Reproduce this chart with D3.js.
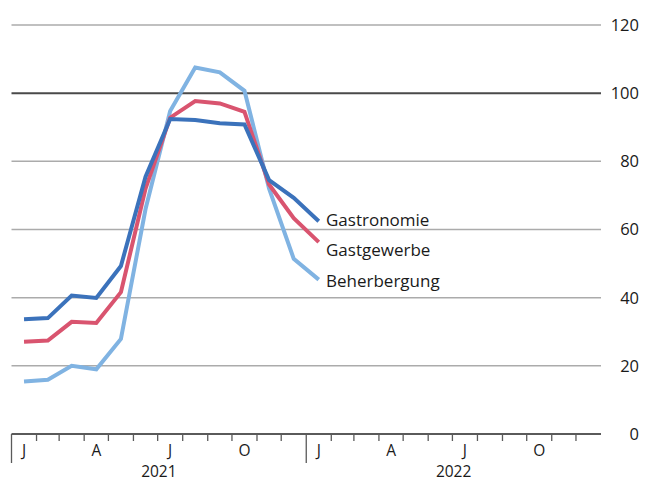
<!DOCTYPE html>
<html>
<head>
<meta charset="utf-8">
<script src="https://cdn.jsdelivr.net/npm/d3@7"></script>
<style>
  body { margin: 0; background: #fff; }
  svg text { font-family: "Open Sans", "Noto Sans", sans-serif; fill: #1a1a1a; }
</style>
</head>
<body>
<div id="chart"></div>
<script>
// months Jan 2021 .. Jan 2022
var months = ["2021-01","2021-02","2021-03","2021-04","2021-05","2021-06","2021-07",
              "2021-08","2021-09","2021-10","2021-11","2021-12","2022-01"];
var gastronomie  = [33.7, 34.0, 40.6, 39.9, 49.3, 75.5, 92.4, 92.1, 91.2, 90.8, 74.5, 69.3, 62.4];
var gastgewerbe  = [27.1, 27.4, 32.9, 32.6, 41.6, 72.0, 92.8, 97.7, 97.0, 94.5, 73.2, 63.3, 56.3];
var beherbergung = [15.4, 15.9, 20.0, 19.0, 27.9, 66.0, 94.8, 107.5, 106.1, 100.7, 72.0, 51.4, 45.3];
var seriesNames = ["Gastronomie", "Gastgewerbe", "Beherbergung"];
var yTicks = [0, 20, 40, 60, 80, 100, 120];
var monthLabels = ["J","F","M","A","M","J","J","A","S","O","N","D"];
var years = ["2021", "2022"];

var width = 649, height = 484;
var margin = {left: 11.5, right: 48, top: 25, bottom: 50};

var svg = d3.select("#chart").append("svg")
    .attr("width", width)
    .attr("height", height);

var parse = d3.timeParse("%Y-%m");
var x = d3.scaleTime()
    .domain([new Date(2021, 0, 1), new Date(2023, 0, 1)])
    .range([margin.left, width - margin.right]);
var y = d3.scaleLinear()
    .domain([0, 120])
    .range([height - margin.bottom, margin.top]);

// mid of month
function xm(s) {
    var d = parse(s);
    var e = d3.timeMonth.offset(d, 1);
    return (x(d) + x(e)) / 2;
}

// grid lines + right labels
var grid = svg.append("g");
yTicks.forEach(function(t) {
    if (t === 0) return;
    grid.append("line")
        .attr("x1", x.range()[0]).attr("x2", x.range()[1])
        .attr("y1", y(t)).attr("y2", y(t))
        .attr("stroke", t === 100 ? "#4a4a4a" : "#ababab")
        .attr("stroke-width", t === 100 ? 2 : 1.5);
});
grid.selectAll("text.ylab")
    .data(yTicks)
    .enter().append("text")
    .attr("class", "ylab")
    .attr("x", 639)
    .attr("y", function(d) { return y(d); })
    .attr("dy", "0.36em")
    .attr("text-anchor", "end")
    .style("font-size", "16.5px")
    .text(function(d) { return d; });

// x axis
var xAxis = svg.append("g");
xAxis.append("line")
    .attr("x1", x.range()[0]).attr("x2", x.range()[1])
    .attr("y1", y(0)).attr("y2", y(0))
    .attr("stroke", "#5a5a5a").attr("stroke-width", 2);

var allMonths = d3.timeMonth.range(new Date(2021, 0, 1), new Date(2023, 0, 1));
allMonths.forEach(function(d) {
    var isYear = d.getMonth() === 0;
    xAxis.append("line")
        .attr("x1", x(d)).attr("x2", x(d))
        .attr("y1", y(0))
        .attr("y2", y(0) + (isYear ? 29 : 7))
        .attr("stroke", "#5a5a5a")
        .attr("stroke-width", 1.3);
    if (d.getMonth() % 3 === 0) {
        var e = d3.timeMonth.offset(d, 1);
        xAxis.append("text")
            .attr("x", (x(d) + x(e)) / 2)
            .attr("y", y(0) + 22)
            .attr("text-anchor", "middle")
            .style("font-size", "15.5px")
            .text(monthLabels[d.getMonth()]);
    }
});
years.forEach(function(yr) {
    var a = new Date(+yr, 0, 1), b = new Date(+yr + 1, 0, 1);
    xAxis.append("text")
        .attr("x", (x(a) + x(b)) / 2)
        .attr("y", y(0) + 43)
        .attr("text-anchor", "middle")
        .style("font-size", "15.5px")
        .text(yr);
});

// lines
var colors = ["#3b72bb", "#d9546f", "#80b3e2"];
var data = [gastronomie, gastgewerbe, beherbergung];
var line = d3.line()
    .x(function(d, i) { return xm(months[i]); })
    .y(function(d) { return y(d); });

// light first so dark blue sits on top
[2, 1, 0].forEach(function(k) {
    svg.append("path")
        .datum(data[k])
        .attr("d", line)
        .attr("fill", "none")
        .attr("stroke", colors[k])
        .attr("stroke-width", 4)
        .attr("stroke-linejoin", "miter");
});

// series labels
var labelY = [226, 256, 286.5];
seriesNames.forEach(function(n, k) {
    svg.append("text")
        .attr("x", 326)
        .attr("y", labelY[k])
        .style("font-size", "17px")
        .text(n);
});
</script>
</body>
</html>
